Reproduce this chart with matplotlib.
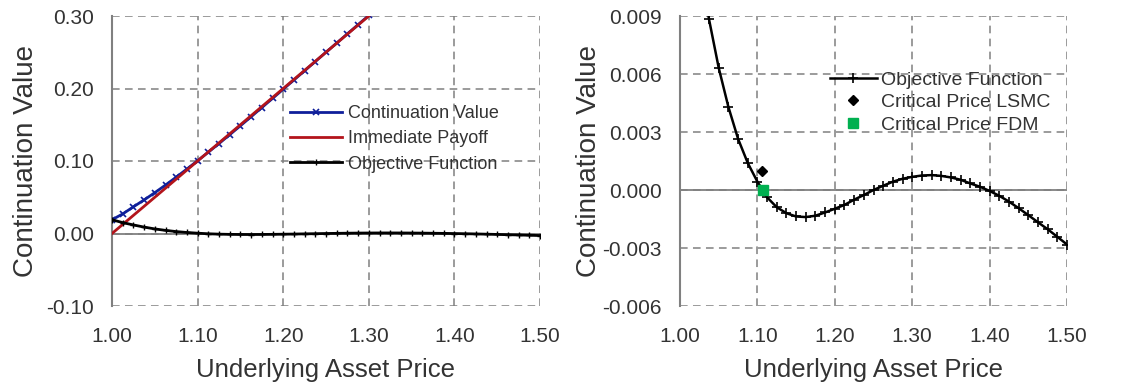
import numpy as np
import matplotlib.pyplot as plt
from matplotlib.ticker import FormatStrFormatter

plt.rcParams['font.family'] = ['Liberation Sans', 'DejaVu Sans']

# asset price grid (step 0.0125)
prices = [1.0, 1.0125, 1.025, 1.0375, 1.05, 1.0625, 1.075, 1.0875, 1.1, 1.1125,
          1.125, 1.1375, 1.15, 1.1625, 1.175, 1.1875, 1.2, 1.2125, 1.225, 1.2375,
          1.25, 1.2625, 1.275, 1.2875, 1.3, 1.3125, 1.325, 1.3375, 1.35, 1.3625,
          1.375, 1.3875, 1.4, 1.4125, 1.425, 1.4375, 1.45, 1.4625, 1.475, 1.4875, 1.5]

objective = [0.0190, 0.0150, 0.0118, 0.00883, 0.00632, 0.0043, 0.00265, 0.0014, 0.00043, -0.00038,
             -0.00089, -0.0012, -0.00137, -0.0014, -0.00133, -0.00116, -0.00097, -0.00077, -0.0005, -0.00026,
             0.0, 0.00022, 0.00043, 0.00058, 0.00068, 0.00075, 0.00077, 0.00073, 0.00065, 0.00053,
             0.00034, 0.00017, -0.00005, -0.0003, -0.0006, -0.00094, -0.0013, -0.00167, -0.00203, -0.00242, -0.00282]

# continuation value only shown up to the top of the left panel
cont_prices = prices[:26]
continuation = [0.0190, 0.0270, 0.0368, 0.0463, 0.0563, 0.0668, 0.0777, 0.0889, 0.1004, 0.1121,
                0.1241, 0.1363, 0.1486, 0.1611, 0.1737, 0.1863, 0.1990, 0.2117, 0.2245, 0.2372,
                0.2500, 0.2627, 0.2754, 0.2881, 0.3007, 0.3133]

payoff_prices = [1.0, 1.5]
payoff = [0.0, 0.5]

lsmc_price, lsmc_value = 1.106, 0.00099
fdm_price, fdm_value = 1.107, 0.0

GRAY = '#808080'
TXT = '#333333'

fig = plt.figure(figsize=(11.47, 3.86), dpi=100)
ax1 = fig.add_axes([112 / 1147, 1 - 306 / 386, (540 - 112) / 1147, 290 / 386])
ax2 = fig.add_axes([680 / 1147, 1 - 306 / 386, (1067 - 680) / 1147, 290 / 386])


def style(ax):
    for s in ['top', 'right', 'bottom']:
        ax.spines[s].set_visible(False)
    ax.spines['left'].set_color(GRAY)
    ax.spines['left'].set_linewidth(1.5)
    ax.grid(True, color=GRAY, linestyle=(0, (5, 3.5)), linewidth=1.1)
    ax.axhline(0, color=GRAY, lw=1.3, zorder=1.5)
    ax.tick_params(axis='both', length=0, labelsize=15, colors=TXT)
    ax.tick_params(axis='y', pad=13)
    ax.tick_params(axis='x', pad=15)
    ax.set_xlim(1.0, 1.5)
    ax.set_xticks([1.0, 1.1, 1.2, 1.3, 1.4, 1.5])
    ax.xaxis.set_major_formatter(FormatStrFormatter('%.2f'))
    ax.set_xlabel('Underlying Asset Price', fontsize=18.5, color=TXT, labelpad=9)
    ax.set_axisbelow(True)


style(ax1)
ax1.set_ylim(-0.1, 0.3)
ax1.set_yticks([-0.1, 0.0, 0.1, 0.2, 0.3])
ax1.yaxis.set_major_formatter(FormatStrFormatter('%.2f'))
ax1.set_ylabel('Continuation Value', fontsize=20, color=TXT, labelpad=5)

ax1.plot(cont_prices, continuation, color='#0f1f9a', lw=2, marker='x', ms=4, mew=1.2,
         label='Continuation Value', zorder=3)
ax1.plot(payoff_prices, payoff, color='#b3141b', lw=2, label='Immediate Payoff', zorder=4)
ax1.plot(prices, objective, color='black', lw=2, marker='+', ms=4, mew=1.0,
         label='Objective Function', zorder=5)
ax1.legend(loc='upper left', bbox_to_anchor=(290 / 1147, 1 - 105 / 386),
           bbox_transform=fig.transFigure, frameon=False, fontsize=13,
           borderpad=0, borderaxespad=0, handlelength=2.9, handletextpad=0.3,
           labelspacing=0.46, labelcolor=TXT)

style(ax2)
ax2.set_ylim(-0.006, 0.009)
ax2.set_yticks([-0.006, -0.003, 0.0, 0.003, 0.006, 0.009])
ax2.yaxis.set_major_formatter(FormatStrFormatter('%.3f'))
ax2.set_ylabel('Continuation Value', fontsize=20, color=TXT, labelpad=0)

ax2.plot(prices, objective, color='black', lw=1.8, marker='+', ms=7, mew=1.2,
         label='Objective Function', zorder=3)
ax2.plot([lsmc_price], [lsmc_value], linestyle='none', marker='D', ms=5.5,
         color='black', label='Critical Price LSMC', zorder=4)
ax2.plot([fdm_price], [fdm_value], linestyle='none', marker='s', ms=7,
         color='#00b050', label='Critical Price FDM', zorder=5)
ax2.legend(loc='upper left', bbox_to_anchor=(830 / 1147, 1 - 71 / 386),
           bbox_transform=fig.transFigure, frameon=False, fontsize=14,
           borderpad=0, borderaxespad=0, handlelength=2.4, handletextpad=0.2,
           labelspacing=0.25, labelcolor=TXT)

fig.savefig('out.png', dpi=100)
